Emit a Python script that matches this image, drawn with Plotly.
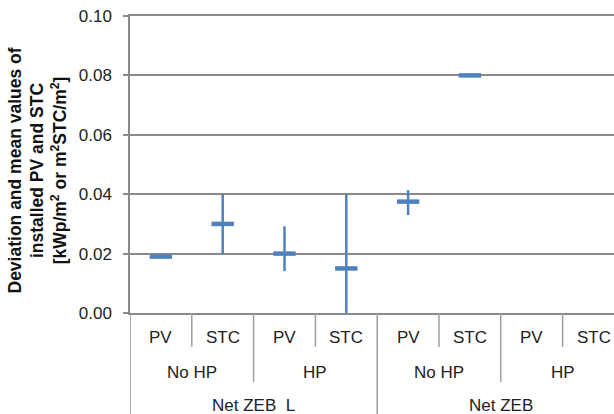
import plotly.graph_objects as go

# ---- data ----
level1_labels = ["PV", "STC", "PV", "STC", "PV", "STC", "PV", "STC"]
level2_labels = ["No HP", "HP", "No HP", "HP"]
level3_labels = ["Net ZEB\u00a0 L", "Net ZEB"]
mean_values = [0.019, 0.030, 0.020, 0.015, 0.0375, 0.080, None, None]
err_plus = [0.0, 0.010, 0.0092, 0.025, 0.0039, 0.0, None, None]
err_minus = [0.0, 0.010, 0.0059, 0.015, 0.0045, 0.0, None, None]
y_ticks = [0.00, 0.02, 0.04, 0.06, 0.08, 0.10]

# ---- style ----
BLUE = "#4F81BD"
GRID = "#8a8a8a"
DIV = "#a0a0a0"
FONT = "Liberation Sans, Arial, sans-serif"
W, H = 614, 414
ML, MR, MT, MB = 130, 0, 16, 101
plot_h = H - MT - MB
cat_px = 61.8
plot_w = W - ML - MR

x_pos = list(range(len(level1_labels)))

fig = go.Figure()
fig.add_trace(go.Scatter(
    x=x_pos, y=mean_values, mode="markers",
    marker=dict(symbol="line-ew", size=16, color=BLUE,
                line=dict(color=BLUE, width=4.5)),
    error_y=dict(type="data", symmetric=False, array=err_plus,
                 arrayminus=err_minus, color=BLUE, thickness=2.5, width=0),
    showlegend=False, cliponaxis=False, hoverinfo="skip",
))

def py(px_below):
    return -px_below / plot_h

shapes = []
annotations = []
n1 = len(level1_labels)
n2 = len(level2_labels)
n3 = len(level3_labels)
per2 = n1 // n2
per3 = n1 // n3

# divider lines
for i in range(n1):
    b = i - 0.5
    if i % per3 == 0:
        depth = MB
    elif i % per2 == 0:
        depth = 69
    else:
        depth = 34
    shapes.append(dict(type="line", xref="x", yref="paper", x0=b, x1=b,
                       y0=0, y1=py(depth),
                       line=dict(color=GRID if i == 0 else DIV, width=1.5)))

# level labels
for i, lab in enumerate(level1_labels):
    annotations.append(dict(x=i, y=py(24), xref="x", yref="paper", text=lab,
                            showarrow=False, xanchor="center", yanchor="middle",
                            font=dict(family=FONT, size=17, color="#222")))
for j, lab in enumerate(level2_labels):
    annotations.append(dict(x=j * per2 + (per2 - 1) / 2, y=py(59), xref="x", yref="paper",
                            text=lab, showarrow=False, xanchor="center", yanchor="middle",
                            font=dict(family=FONT, size=17, color="#222")))
for k, lab in enumerate(level3_labels):
    annotations.append(dict(x=k * per3 + (per3 - 1) / 2, y=py(92), xref="x", yref="paper",
                            text=lab, showarrow=False, xanchor="center", yanchor="middle",
                            font=dict(family=FONT, size=17, color="#222")))

# y axis title
annotations.append(dict(
    x=(37 - ML) / plot_w, y=0.5 - 6 / plot_h, xref="paper", yref="paper",
    text="<b>Deviation and mean values of<br>installed PV and STC<br>[kWp/m<sup>2</sup> or m<sup>2</sup>STC/m<sup>2</sup>]</b>",
    showarrow=False, textangle=-90, xanchor="center", yanchor="middle",
    font=dict(family=FONT, size=17.5, color="#111")))

fig.update_layout(
    width=W, height=H,
    margin=dict(l=ML, r=MR, t=MT, b=MB, pad=0, autoexpand=False),
    paper_bgcolor="white", plot_bgcolor="white",
    shapes=shapes, annotations=annotations,
    xaxis=dict(range=[-0.5, -0.5 + plot_w / cat_px], showgrid=False, zeroline=False,
               showticklabels=False, ticks="", showline=True, mirror=True,
               linecolor=GRID, linewidth=1.5, fixedrange=True),
    yaxis=dict(range=[0, 0.1], tickvals=y_ticks, tickformat=".2f",
               showgrid=True, gridcolor=GRID, gridwidth=1.5, zeroline=False,
               showline=True, linecolor=GRID, linewidth=1.5,
               ticks="outside", ticklen=5, tickcolor=GRID, tickwidth=1.5,
               ticklabelstandoff=8, ticklabeloverflow="allow",
               tickfont=dict(family=FONT, size=17, color="#222"), fixedrange=True),
)

fig.write_html("out.html",
               config={"displayModeBar": False},
               post_script="document.body.style.margin='0';document.body.style.overflow='hidden';")
